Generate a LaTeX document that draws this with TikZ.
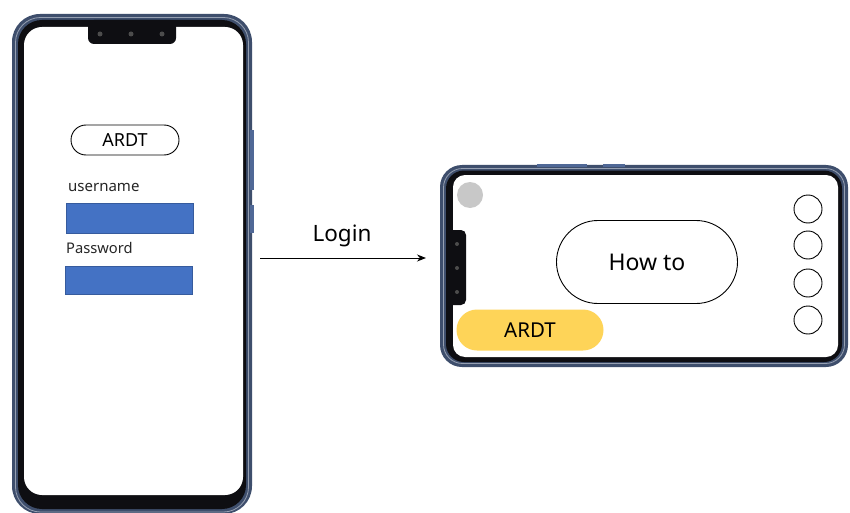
\documentclass[tikz,border=0pt]{standalone}
\usepackage{fontspec}
\setmainfont{Noto Sans}
\usetikzlibrary{shapes.misc,arrows.meta}
\definecolor{framecol}{RGB}{62,78,108}
\definecolor{framehi}{RGB}{150,160,178}
\definecolor{btncol}{RGB}{80,104,150}
\definecolor{bezel}{RGB}{14,14,18}
\definecolor{fieldblue}{RGB}{68,114,196}
\definecolor{btnyellow}{RGB}{254,212,88}
\definecolor{dotgray}{RGB}{200,200,200}
\tikzset{
  pill/.style={rounded rectangle, draw=black, line width=0.9pt, inner sep=0pt},
  field/.style={rectangle, fill=fieldblue, draw=fieldblue!80!black, line width=0.4pt, inner sep=0pt, anchor=north west},
  label/.style={anchor=west, inner sep=0pt, text=black!85},
  roundbtn/.style={circle, draw=black, line width=0.9pt, minimum size=28pt, inner sep=0pt},
  sidebtn/.style={fill=btncol, draw=none},
}
\begin{document}
\begin{tikzpicture}[x=1pt,y=-1pt]
\useasboundingbox (0,0) rectangle (850,513);
\fill[white] (0,0) rectangle (850,513);

% ---- portrait phone ----
\fill[framecol, rounded corners=28pt] (12,14) rectangle (252,514);
\fill[sidebtn] (250,130) rectangle (253.5,190);
\fill[sidebtn] (250,205) rectangle (253.5,233);
\draw[framehi, line width=0.8pt, rounded corners=25pt] (15.5,17.5) rectangle (248.5,512);
\fill[bezel, rounded corners=24pt] (18,20) rectangle (246,509);
\fill[white, rounded corners=18pt] (24,27) rectangle (243,495);
\fill[bezel, rounded corners=6pt] (88,20) -- (88,44) -- (176,44) -- (176,20) -- cycle;
\foreach \cx in {100,131,162} \fill[black!70] (\cx,34) circle (2.5pt);

\node[pill, minimum width=108pt, minimum height=30pt, font=\fontsize{18}{21}\selectfont] (brand) at (125,140) {ARDT};
\node[label, font=\fontsize{15}{18}\selectfont] (userlbl) at (68,187) {username};
\node[field, minimum width=127pt, minimum height=30pt] (userbox) at (66,203) {};
\node[label, font=\fontsize{14.7}{17}\selectfont] (passlbl) at (66,248) {Password};
\node[field, minimum width=127pt, minimum height=28pt] (passbox) at (65,266) {};

% ---- landscape phone ----
\fill[framecol, rounded corners=22pt] (440,165) rectangle (848,367);
\fill[sidebtn] (537,164) rectangle (587,167);
\fill[sidebtn] (603,164) rectangle (625,167);
\draw[framehi, line width=0.8pt, rounded corners=19pt] (443.5,168.5) rectangle (844.5,363.5);
\fill[bezel, rounded corners=18pt] (446,170.5) rectangle (842,362);
\fill[white, rounded corners=12pt] (453,175) rectangle (838,357);
\fill[bezel, rounded corners=5pt] (447,230) -- (466,230) -- (466,305) -- (447,305) -- cycle;
\foreach \cy in {244,268,292} \fill[black!70] (457,\cy) circle (2pt);

\node[circle, fill=dotgray, minimum size=26pt, inner sep=0pt] (avatar) at (470,195) {};
\node[pill, minimum width=181pt, minimum height=83pt, font=\fontsize{23}{26}\selectfont] (howto) at (647,262) {How to};
\node[rounded rectangle, fill=btnyellow, minimum width=147pt, minimum height=41pt, inner sep=0pt, font=\fontsize{20.5}{24}\selectfont] (ardt) at (530,330) {ARDT};
\node[roundbtn] (b1) at (808,209) {};
\node[roundbtn] (b2) at (808,245) {};
\node[roundbtn] (b3) at (808,283) {};
\node[roundbtn] (b4) at (808,320) {};

% ---- transition ----
\coordinate (from) at (260,258);
\coordinate (to) at (426,258);
\draw[-{Stealth[length=9pt,width=7pt]}, line width=1pt] (from) -- (to);
\node[font=\fontsize{22.5}{26}\selectfont, inner sep=0pt] (login) at (342,236) {Login};
\end{tikzpicture}
\end{document}
